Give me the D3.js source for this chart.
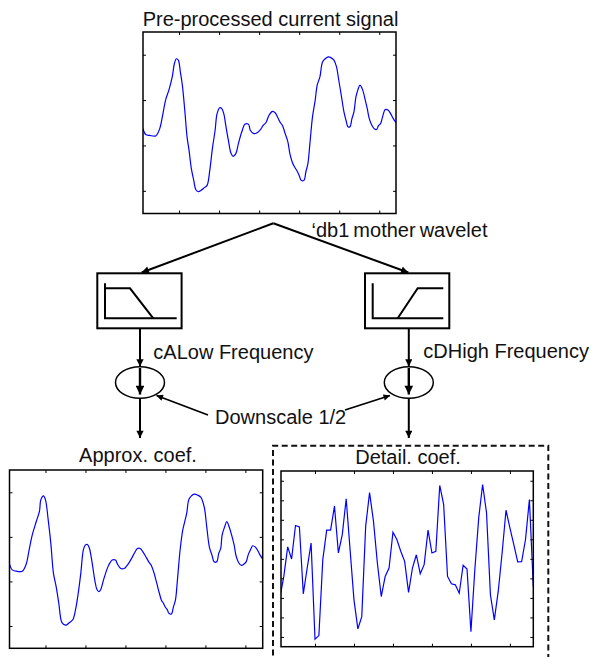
<!DOCTYPE html>
<html><head><meta charset="utf-8">
<script src="https://cdn.jsdelivr.net/npm/d3@7"></script>
<style>
html,body{margin:0;padding:0;background:#fff;}
svg{display:block;}
text{font-family:"Liberation Sans",Arial,sans-serif;font-size:20px;fill:#111;}
</style></head>
<body>
<svg id="c" width="591" height="657"></svg>
<script>
// ---------------- DATA ----------------
// Pre-processed current signal (sample index, amplitude)
const signalX = [2,3.35,5.35,8.35,10.35,11.65,13.35,15,16.65,17.65,18.65,19.65,20.65,21.65,22.85,24,25,26.15,27.35,28.35,29.65,31,32.65,34,35.35,36.65,38,39,40.35,41.35,42.35,43.35,44.65,46,47,48.35,49.65,51.35,53,54.65,55.65,57.35,59,60.65,62,63.35,65,66.65,68,69.35,70.65,71.65,73,74.35,75.35,76.65,77.65,79,80,81,82.35,83.35,84.35,85.35,86.65,88,89,90.35,91.65,93,94.65,96,97.35,98.65,99.65,101,102.35,103.35,104.35,105.35,106.35,107.35,108.35,109.35,110.35,111.65,113,114,115,116.35,117.65,118.65,119.65,120.65,121.65,123,124.35,125.65,127,128.35];
const signalY = [-0.13,-0.26,-0.28,-0.29,-0.13,0.13,0.51,0.73,1.02,1.30,1.41,1.38,1.12,0.83,0.28,-0.31,-0.61,-1.01,-1.27,-1.47,-1.52,-1.49,-1.43,-1.38,-1.05,-0.57,-0.17,0.20,0.33,0.31,0.20,-0.06,-0.39,-0.68,-0.74,-0.68,-0.46,-0.20,-0.03,-0.03,-0.17,-0.24,-0.22,-0.15,-0.06,0.00,0.17,0.25,0.22,0.11,0.00,-0.06,-0.24,-0.42,-0.68,-0.88,-0.97,-1.07,-1.16,-1.27,-1.27,-1.08,-0.90,-0.46,0.13,0.50,0.83,1.01,1.34,1.41,1.45,1.43,1.38,1.23,0.97,0.61,0.24,0.06,-0.09,-0.09,0.09,0.24,0.57,0.73,0.83,0.73,0.50,0.31,0.09,-0.06,-0.14,-0.15,-0.06,-0.02,0.13,0.29,0.28,0.20,0.09,0.00];

// Approximation coefficients (cA)
const approxX = [1,1.68,2.68,4.18,5.18,5.83,6.68,7.68,8.5,8.83,9.5,10,10.68,11.33,12,12.68,13.33,14,14.5,15.18,16,16.83,17.5,18.18,18.83,19.5,20,20.5,21,21.68,22.33,22.83,23.33,23.83,24.5,25.33,25.83,26.68,27.5,28,28.83,29.68,30.33,30.83,31.68,32.33,33,33.68,34.33,35,35.83,36.5,37.18,37.83,38.5,39,39.5,40,40.5,40.83,41.5,42,42.5,43,43.68,44.33,44.83,45.33,45.83,46.5,47.18,48,48.83,49.68,50.33,51,51.68,52.18,52.83,53.33,53.83,54.18,54.83,55.33,56,56.68,57.18,57.68,58.33,59,59.5,60.18,60.68,61.33,61.83,62.5,63.18,63.68,64.33];
const approxY = [-0.11,-0.24,-0.27,-0.27,-0.11,0.17,0.54,0.84,1.08,1.33,1.42,1.33,0.88,0.36,-0.32,-0.62,-0.99,-1.40,-1.46,-1.48,-1.42,-1.36,-1.14,-0.77,-0.32,0.22,0.32,0.33,0.24,-0.09,-0.47,-0.67,-0.73,-0.68,-0.47,-0.24,-0.13,-0.02,-0.02,-0.11,-0.21,-0.21,-0.15,-0.09,0.04,0.15,0.24,0.24,0.17,0.07,-0.06,-0.15,-0.32,-0.54,-0.77,-0.92,-0.99,-1.08,-1.14,-1.21,-1.23,-1.07,-0.92,-0.47,0.21,0.65,0.84,1.03,1.33,1.42,1.46,1.44,1.39,1.18,0.73,0.27,0.08,-0.06,-0.06,0.13,0.24,0.54,0.73,0.84,0.71,0.50,0.32,0.07,-0.08,-0.14,-0.12,-0.06,0.09,0.22,0.30,0.27,0.18,0.09,0.00];

// Detail coefficients (cD), samples 1..66
const detailY = [-1.98,-0.90,0.61,-0.01,1.71,1.64,-1.79,-0.47,0.81,-4.11,-3.93,-0.04,1.47,1.47,2.70,0.30,1.24,3.08,0.47,-2.10,-3.59,-2.96,1.67,3.39,1.93,-0.21,-1.93,-0.90,-0.47,1.36,0.99,0.39,-0.13,-1.72,-0.47,0.21,-0.76,-0.30,1.47,0.30,0.39,3.76,2.79,-0.90,-1.28,-1.33,-1.76,-0.33,-0.52,-3.73,-0.56,2.10,3.81,2.36,-1.84,-3.13,-1.67,0.30,2.49,1.59,0.73,-0.16,-0.15,0.99,3.04,-1.41];

// tick values
const signalXTicks = [20,40,60,80,100,120];
const halfXTicks = [10,20,30,40,50,60];
const ampTicks = [-1.5,-0.5,0.5,1.5];
const detailTicks = [-4,-3,-2,-1,0,1,2,3,4];

// texts
const titles = {signal:"Pre-processed current signal", approx:"Approx. coef.", detail:"Detail. coef."};
const labels = {wavelet:"\u2018db1 mother wavelet", low:"cALow Frequency", high:"cDHigh Frequency", down:"Downscale 1/2"};

// ---------------- DRAW ----------------
const svg = d3.select("#c");
const defs = svg.append("defs");
defs.append("marker").attr("id","ah").attr("viewBox","0 0 10 10").attr("refX",10).attr("refY",5)
  .attr("markerWidth",4.2).attr("markerHeight",3.6).attr("markerUnits","strokeWidth").attr("orient","auto")
  .append("path").attr("d","M0,0 L10,5 L0,10 Z").attr("fill","#000");

let clipN = 0;
function panel(frame, xDom, yDom, xs, ys, xTicks, yTicks, curve){
  const x = d3.scaleLinear().domain(xDom).range([frame.x0, frame.x1]);
  const y = d3.scaleLinear().domain(yDom).range([frame.y1, frame.y0]);
  const g = svg.append("g");
  const id = "clip"+(clipN++);
  defs.append("clipPath").attr("id",id).append("rect")
    .attr("x",frame.x0).attr("y",frame.y0).attr("width",frame.x1-frame.x0).attr("height",frame.y1-frame.y0);
  const pts = xs.map((d,i)=>[d, ys[i]]);
  g.append("path").datum(pts).attr("clip-path","url(#"+id+")")
    .attr("fill","none").attr("stroke","#0000ff").attr("stroke-width",1.2)
    .attr("d", d3.line().x(d=>x(d[0])).y(d=>y(d[1])).curve(curve));
  const ts = 3;
  const style = a => { a.select(".domain").remove(); a.selectAll("line").attr("stroke","#000").attr("stroke-width",1); a.selectAll("text").remove(); };
  g.append("g").attr("transform",`translate(0,${frame.y1})`).call(d3.axisBottom(x).tickValues(xTicks).tickSize(-ts).tickFormat("")).call(style);
  g.append("g").attr("transform",`translate(0,${frame.y0})`).call(d3.axisTop(x).tickValues(xTicks).tickSize(-ts).tickFormat("")).call(style);
  g.append("g").attr("transform",`translate(${frame.x0},0)`).call(d3.axisLeft(y).tickValues(yTicks).tickSize(-ts).tickFormat("")).call(style);
  g.append("g").attr("transform",`translate(${frame.x1},0)`).call(d3.axisRight(y).tickValues(yTicks).tickSize(-ts).tickFormat("")).call(style);
  g.append("rect").attr("x",frame.x0).attr("y",frame.y0).attr("width",frame.x1-frame.x0).attr("height",frame.y1-frame.y0)
    .attr("fill","none").attr("stroke","#000").attr("stroke-width",1.5);
}

const fTop = {x0:143, y0:32, x1:396, y1:213.5};
const fApp = {x0:9.5, y0:470, x1:262.7, y1:648.3};
const fDet = {x0:281, y0:471, x1:533.3, y1:646.7};

panel(fTop, [2,128.35], [-2,2], signalX, signalY, signalXTicks, ampTicks, d3.curveCatmullRom.alpha(0.5));
panel(fApp, [1,64.33], [-2,2], approxX, approxY, halfXTicks, ampTicks, d3.curveCatmullRom.alpha(0.5));
panel(fDet, [1.28,66], [-4.5,4.5], d3.range(1, detailY.length+1), detailY, halfXTicks, detailTicks, d3.curveLinear);

// titles
svg.append("text").attr("x",(fTop.x0+fTop.x1)/2+1).attr("y",26).attr("text-anchor","middle").text(titles.signal);
svg.append("text").attr("x",138).attr("y",461.7).attr("text-anchor","middle").text(titles.approx);
svg.append("text").attr("x",408).attr("y",464.3).attr("text-anchor","middle").text(titles.detail);

// dashed frame around detail
svg.append("path").attr("d","M273,665 V445.7 H548.3 V665").attr("fill","none")
  .attr("stroke","#111").attr("stroke-width",2).attr("stroke-dasharray","6,3.5");

// arrows
function arrow(x1,y1,x2,y2,w){
  svg.append("line").attr("x1",x1).attr("y1",y1).attr("x2",x2).attr("y2",y2)
    .attr("stroke","#000").attr("stroke-width",w||2).attr("marker-end","url(#ah)");
}
arrow(273.3,223.3,141.7,272.5);
arrow(273.3,223.3,408.3,272.5);

// filter boxes
function filterBox(x0, kind){
  const g = svg.append("g").attr("fill","none").attr("stroke","#000").attr("stroke-width",2);
  g.append("rect").attr("x",x0).attr("y",273.3).attr("width",84.3).attr("height",55);
  const ax = x0+7.7, by = 318.3, ty = 283.3;
  g.append("path").attr("d",`M${ax},${ty} V${by} H${x0+(kind==="low"?79.4:78.3)}`);
  if(kind==="low") g.append("path").attr("d",`M${ax},288.3 H${x0+32.7} L${x0+56},${by}`);
  else g.append("path").attr("d",`M${x0+32.7},${by} L${x0+52.7},288.3 H${x0+78.3}`);
}
filterBox(97.3,"low");
filterBox(365,"high");

// downsampling ellipses and vertical arrows
[140, 408.8].forEach(cx=>{
  arrow(cx,328.3,cx,366.5);
  svg.append("ellipse").attr("cx",cx).attr("cy",382.5).attr("rx",24.5).attr("ry",15.8)
    .attr("fill","none").attr("stroke","#000").attr("stroke-width",1.5);
  arrow(cx,368,cx,394.5,2.4);
  arrow(cx,398.3,cx,438);
});
arrow(208,415,156.5,395.5,1.8);
arrow(345,410,390,395.5,1.8);

// labels
svg.append("text").attr("x",311.5).attr("y",237).attr("word-spacing","-1.5").text(labels.wavelet);
svg.append("text").attr("x",153.3).attr("y",358.5).text(labels.low);
svg.append("text").attr("x",423.3).attr("y",358).text(labels.high);
svg.append("text").attr("x",215).attr("y",423.5).text(labels.down);
</script>
</body></html>
